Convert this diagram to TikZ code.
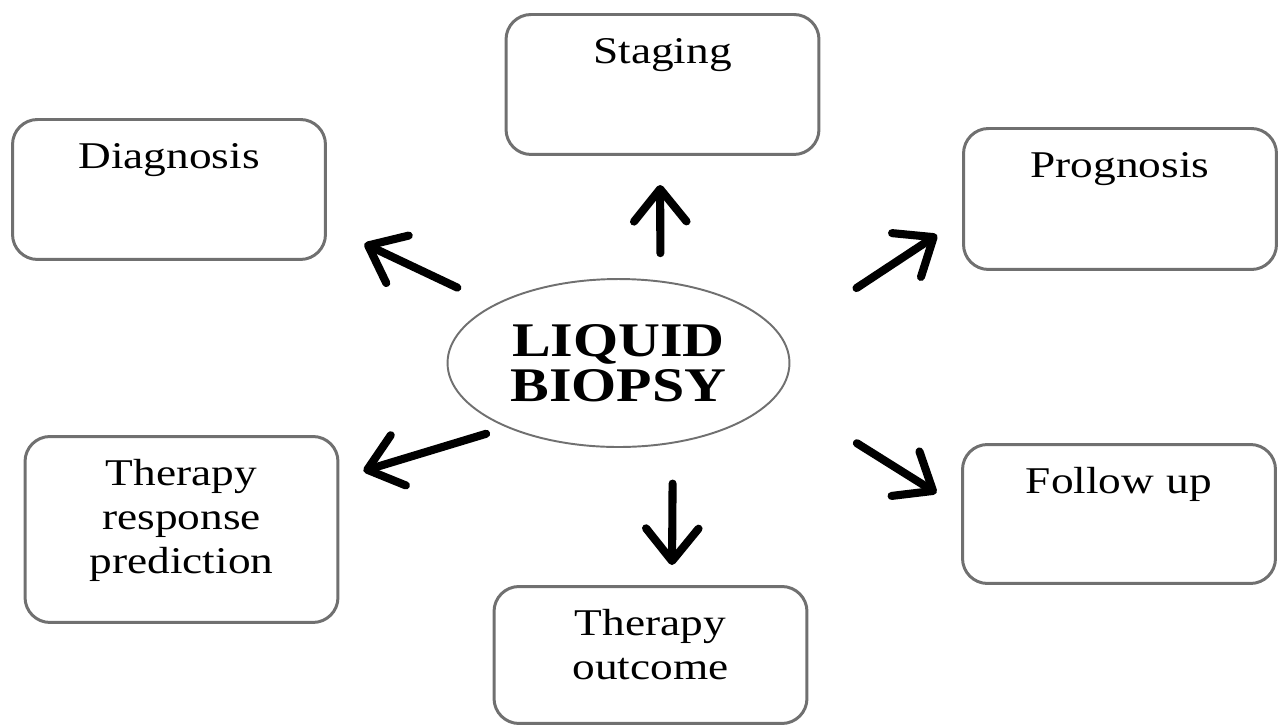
\documentclass[tikz,border=0pt]{standalone}
\usepackage{fontspec}
\setmainfont{Liberation Serif}[FakeStretch=1.2]
\usetikzlibrary{arrows.meta,shapes.geometric}
\definecolor{boxgray}{RGB}{112,112,112}

\begin{document}
\begin{tikzpicture}[x=0.02cm, y=-0.02cm,
    block/.style={draw=boxgray, line width=1.7pt, rounded corners=0.5cm, anchor=north,
                  inner sep=0pt, text width=6.26cm, align=center, text height=0.98cm,
                  font=\fontsize{21.5}{25}\selectfont},
    arr/.style={-{Straight Barb[length=6.5mm, width=10.5mm, round]}, line width=4.6pt, line cap=round}
]
\useasboundingbox (0,0) rectangle (1278,725);

% Centre
\node[ellipse, draw=boxgray, line width=1.1pt, minimum width=6.84cm, minimum height=3.36cm,
      align=center, inner sep=0pt, font=\fontsize{27.5}{25.5}\selectfont\bfseries]
      (biopsy) at (618.5,363) {LIQUID\\BIOPSY};

% Boxes
\node[block, text depth=1.82cm] (diagnosis) at (169,118) {Diagnosis};
\node[block, text depth=1.82cm] (staging) at (662.5,13) {Staging};
\node[block, text depth=1.84cm] (prognosis) at (1120,127) {Prognosis};
\node[block, text depth=2.74cm] (response) at (181.5,435) {Therapy\\response\\prediction};
\node[block, text depth=1.76cm] (outcome) at (650.5,585) {Therapy\\outcome};
\node[block, text depth=1.80cm] (followup) at (1119,443) {Follow up};

% Arrows
\draw[arr, shorten <=0.80cm, shorten >=0.83cm] (biopsy.155) -- (diagnosis.-13);
\draw[arr, shorten <=0.55cm, shorten >=0.58cm] (biopsy.63) -- (staging.-92);
\draw[arr, shorten <=1.78cm, shorten >=0.60cm] (biopsy.9) -- (prognosis.187);
\draw[arr, shorten <=1.85cm, shorten >=0.58cm] (biopsy.-11) -- (followup.178);
\draw[arr, shorten <=0.80cm, shorten >=0.40cm] (biopsy.-56) -- (outcome.73);
\draw[arr, shorten <=0.43cm, shorten >=0.50cm] (biopsy.210) -- (response.18);

\end{tikzpicture}
\end{document}
